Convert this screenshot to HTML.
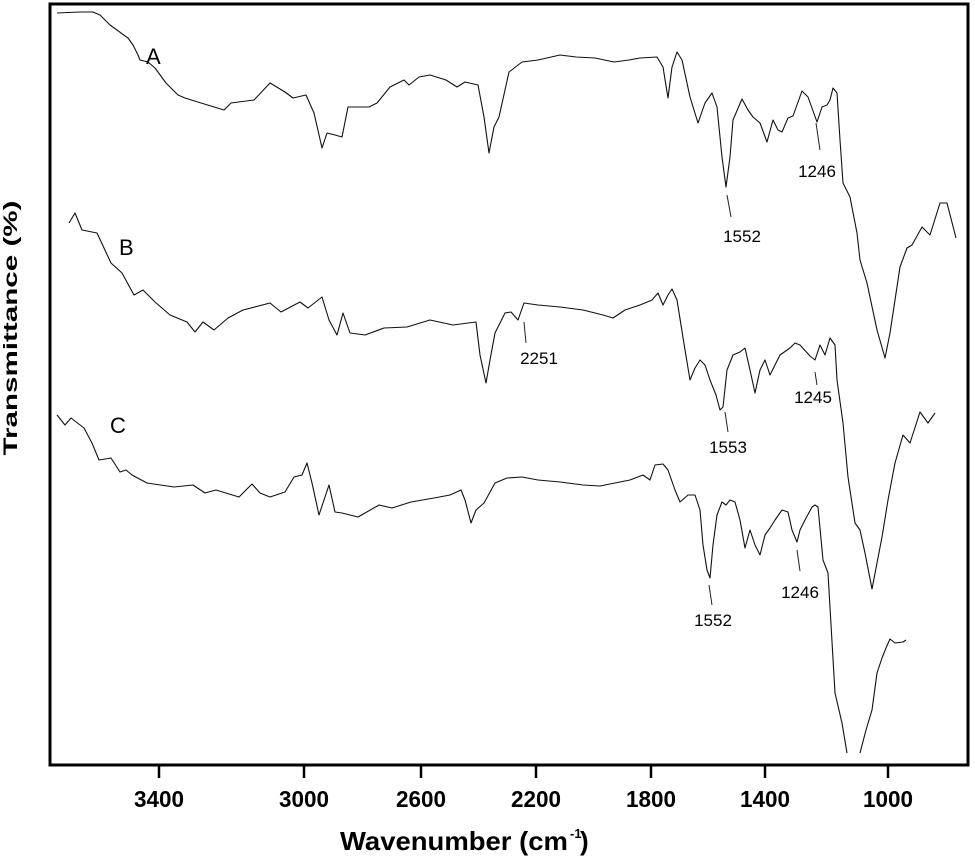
<!DOCTYPE html>
<html><head><meta charset="utf-8"><style>
html,body{margin:0;padding:0;background:#fff;}
svg{display:block;}
</style></head><body>
<svg width="975" height="857" viewBox="0 0 975 857" xmlns="http://www.w3.org/2000/svg">
<rect x="50" y="4" width="918" height="761" fill="none" stroke="#000" stroke-width="3"/>
<g stroke="#000" stroke-width="2.5">
<line x1="159" y1="765" x2="159" y2="778"/><line x1="304" y1="765" x2="304" y2="778"/>
<line x1="421" y1="765" x2="421" y2="778"/><line x1="536" y1="765" x2="536" y2="778"/>
<line x1="651" y1="765" x2="651" y2="778"/><line x1="765" y1="765" x2="765" y2="778"/>
<line x1="888" y1="765" x2="888" y2="778"/>
</g>
<g font-family="'Liberation Sans Narrow','Liberation Sans',sans-serif" font-weight="bold" font-size="23" text-anchor="middle">
<text x="159" y="807" textLength="50" lengthAdjust="spacingAndGlyphs">3400</text>
<text x="304" y="807" textLength="50" lengthAdjust="spacingAndGlyphs">3000</text>
<text x="421" y="807" textLength="50" lengthAdjust="spacingAndGlyphs">2600</text>
<text x="536" y="807" textLength="50" lengthAdjust="spacingAndGlyphs">2200</text>
<text x="651" y="807" textLength="50" lengthAdjust="spacingAndGlyphs">1800</text>
<text x="765" y="807" textLength="50" lengthAdjust="spacingAndGlyphs">1400</text>
<text x="888" y="807" textLength="50" lengthAdjust="spacingAndGlyphs">1000</text>
</g>
<text x="340" y="850" font-family="'Liberation Sans Narrow','Liberation Sans',sans-serif" font-weight="bold" font-size="26" textLength="228" lengthAdjust="spacingAndGlyphs">Wavenumber (cm</text>
<text x="570" y="838" font-family="'Liberation Sans',sans-serif" font-weight="bold" font-size="13">-1</text>
<text x="580" y="850" font-family="'Liberation Sans',sans-serif" font-weight="bold" font-size="26">)</text>
<text transform="translate(17,328) rotate(-90)" font-family="'Liberation Sans',sans-serif" font-weight="bold" font-size="19" text-anchor="middle" textLength="255" lengthAdjust="spacingAndGlyphs">Transmittance  (%)</text>
<g fill="none" stroke="#111" stroke-width="1.1" stroke-linejoin="round">
<polyline points="57,13 80,12 93,12 100,15 110,25 128,38 133,45 138,55 140,60 148,62 155,68 166,83 178,95 185,98 201,103 224,110 231,103 254,100 270,83 285,92 293,98 306,95 314,113 322,148 327,133 335,135 342,137 348,107 358,107 369,107 377,103 390,87 404,80 409,85 419,77 430,75 446,80 457,87 465,82 478,85 484,117 489,153 494,127 499,117 509,72 522,62 538,60 560,55 576,57 595,58 614,62 629,60 640,58 657,57 663,67 668,98 672,67 677,52 682,60 690,97 698,123 705,103 712,93 717,107 722,157 726,187 730,157 733,120 742,99 748,110 753,117 760,123 767,142 773,120 778,130 782,132 788,118 793,116 802,91 808,97 817,122 822,107 827,105 830,100 833,88 837,93 840,140 843,183 850,197 857,233 860,260 867,283 877,330 885,358 890,333 900,267 907,248 912,245 922,227 930,235 940,203 947,203 956,238"/>
<polyline points="69,223 75,213 82,230 97,233 111,263 122,273 134,295 143,290 155,302 170,315 187,322 195,332 203,322 214,330 228,318 243,310 270,303 281,312 300,302 308,308 322,297 329,320 337,335 343,313 350,333 365,335 384,328 407,327 430,320 453,325 476,322 480,355 486,383 490,360 495,333 505,313 511,312 518,320 524,303 538,305 560,307 583,310 603,315 613,318 625,310 640,305 652,300 658,293 663,305 668,295 672,289 677,300 685,350 690,380 695,368 700,360 705,365 710,380 716,395 720,410 723,407 727,370 733,355 740,352 745,348 750,370 755,393 760,370 765,360 770,375 775,365 780,355 790,348 795,343 800,345 810,356 815,360 820,345 825,355 830,338 835,345 837,380 843,423 848,477 855,523 860,530 865,553 872,589 882,537 888,500 895,463 903,435 910,443 920,412 928,423 935,413"/>
<polyline points="57,415 65,425 71,418 84,428 92,443 99,460 111,458 120,472 126,470 132,475 147,483 174,487 193,485 205,493 216,490 239,497 252,484 260,493 270,497 285,492 294,477 302,475 307,463 312,483 319,515 329,485 335,512 342,513 358,517 379,505 392,508 411,502 434,498 450,495 461,490 465,500 471,523 476,510 484,503 495,483 507,478 522,477 538,480 560,482 583,485 600,486 615,483 630,480 643,475 650,480 655,465 663,464 668,470 675,490 680,502 688,495 695,495 700,510 703,545 707,570 710,578 713,545 717,515 722,502 726,505 730,500 735,502 740,520 745,548 750,530 755,545 760,555 765,535 770,528 775,520 782,510 788,512 792,530 797,542 800,530 805,520 812,507 815,505 818,507 823,560 828,573 835,693 842,723 847,753"/>
<polyline points="860,753 866,730 872,710 877,673 882,658 886,648 890,639 895,643 903,642 906,640"/>
</g>
<g stroke="#222" stroke-width="1">
<line x1="727" y1="195" x2="731" y2="217"/><line x1="816" y1="123" x2="820" y2="150"/>
<line x1="524" y1="322" x2="526" y2="343"/><line x1="725" y1="412" x2="728" y2="432"/>
<line x1="815" y1="372" x2="817" y2="385"/><line x1="709" y1="585" x2="712" y2="605"/>
<line x1="797" y1="550" x2="800" y2="571"/>
</g>
<g font-family="'Liberation Sans',sans-serif" font-size="22">
<text x="146" y="64">A</text><text x="119" y="255">B</text><text x="110" y="433">C</text>
</g>
<g font-family="'Liberation Sans',sans-serif" font-size="17" text-anchor="middle">
<text x="742" y="242">1552</text><text x="817" y="177">1246</text>
<text x="539" y="364">2251</text><text x="728" y="453">1553</text><text x="813" y="403">1245</text>
<text x="713" y="626">1552</text><text x="800" y="598">1246</text>
</g>
</svg>
</body></html>
